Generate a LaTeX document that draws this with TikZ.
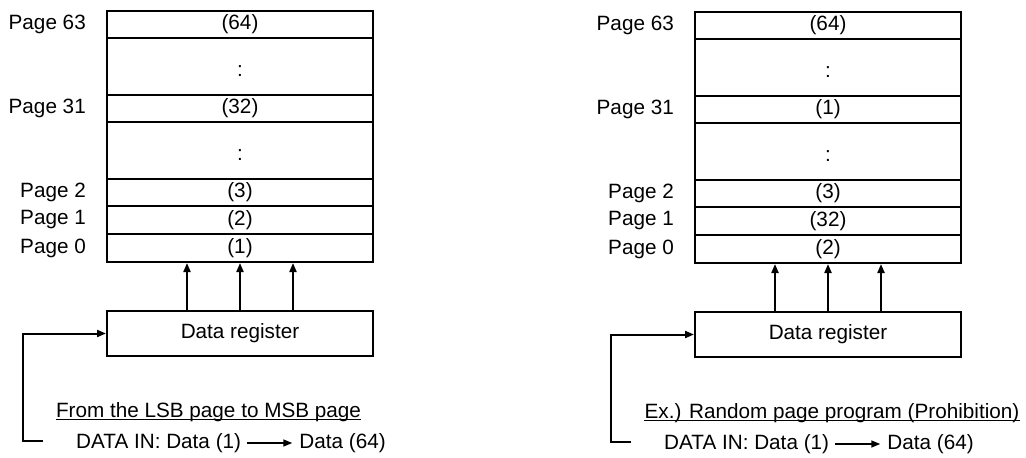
\documentclass[tikz,border=0pt]{standalone}
\usepackage{fontspec}
\setmainfont{Liberation Sans}
\usetikzlibrary{positioning,arrows.meta}
\tikzset{
  row/.style={draw, line width=2pt, minimum width=266pt, inner sep=0pt},
  gap/.style={row, minimum height=57pt, text height=19pt},
  pg/.style={inner sep=0pt},
  tip/.style={-{Triangle[length=9pt,width=7pt]}, line width=2pt}
}
\begin{document}
\begin{tikzpicture}[x=1pt, y=-1pt, font=\fontsize{20.7}{24}\selectfont]
  \useasboundingbox (0,0) rectangle (1026,458);
  % left: from the LSB page to MSB page
  \begin{scope}
    \draw
      (240,24.5) node[row, minimum height=27pt] (Lp63){(64)}
      (240,66.5) node[gap] (Lg2){:}
      (240,108.5) node[row, minimum height=27pt] (Lp31){(32)}
      (240,150.5) node[gap] (Lg1){:}
      (240,192.5) node[row, minimum height=27pt] (Lp2){(3)}
      (240,220) node[row, minimum height=28pt] (Lp1){(2)}
      (240,248) node[row, minimum height=28pt] (Lp0){(1)}
      (240,333.5) node[row, minimum height=45pt] (Lreg){Data register};
    \node[pg, left=20pt of Lp63] (Ll63){Page 63};
    \node[pg, left=20pt of Lp31] (Ll31){Page 31};
    \node[pg, left=20pt of Lp2] (Ll2){Page 2};
    \node[pg, left=20pt of Lp1] (Ll1){Page 1};
    \node[pg, left=20pt of Lp0] (Ll0){Page 0};
    \node[pg] (Lnote) at (208.5,412) {From the LSB page to MSB page};
    \draw[line width=1.5pt] ([yshift=-2pt]Lnote.base west) -- ([yshift=-2pt]Lnote.base east);
    \node[pg, anchor=west] (Ldin) at (76,443) {DATA IN: Data (1)};
    \node[pg, right=58pt of Ldin] (Ldout){Data (64)};
    \coordinate (Lf) at (43,441);
    \begin{scope}[tip]
      \draw ([xshift=-53pt]Lreg.north) to ([xshift=-53pt]Lp0.south);
      \draw (Lreg.north) to (Lp0.south);
      \draw ([xshift=53pt]Lreg.north) to ([xshift=53pt]Lp0.south);
      \draw (Lf) -- ++(-20,0) |- (Lreg.west);
      \draw[line width=1.5pt, shorten <=6pt, shorten >=7pt] (Ldin) to (Ldout);
    \end{scope}
  \end{scope}
  % right: random page program
  \begin{scope}[shift={(588,1)}]
    \draw
      (240,24.5) node[row, minimum height=27pt] (Rp63){(64)}
      (240,66.5) node[gap] (Rg2){:}
      (240,108.5) node[row, minimum height=27pt] (Rp31){(1)}
      (240,150.5) node[gap] (Rg1){:}
      (240,192.5) node[row, minimum height=27pt] (Rp2){(3)}
      (240,220) node[row, minimum height=28pt] (Rp1){(32)}
      (240,248) node[row, minimum height=28pt] (Rp0){(2)}
      (240,333.5) node[row, minimum height=45pt] (Rreg){Data register};
    \node[pg, left=20pt of Rp63] (Rl63){Page 63};
    \node[pg, left=20pt of Rp31] (Rl31){Page 31};
    \node[pg, left=20pt of Rp2] (Rl2){Page 2};
    \node[pg, left=20pt of Rp1] (Rl1){Page 1};
    \node[pg, left=20pt of Rp0] (Rl0){Page 0};
    \node[pg] (Rnote) at (244,412) {Ex.) Random page program (Prohibition)};
    \draw[line width=1.5pt] ([yshift=-2pt]Rnote.base west) -- ([yshift=-2pt]Rnote.base east);
    \node[pg, anchor=west] (Rdin) at (76,443) {DATA IN: Data (1)};
    \node[pg, right=58pt of Rdin] (Rdout){Data (64)};
    \coordinate (Rf) at (43,441);
    \begin{scope}[tip]
      \draw ([xshift=-53pt]Rreg.north) to ([xshift=-53pt]Rp0.south);
      \draw (Rreg.north) to (Rp0.south);
      \draw ([xshift=53pt]Rreg.north) to ([xshift=53pt]Rp0.south);
      \draw (Rf) -- ++(-20,0) |- (Rreg.west);
      \draw[line width=1.5pt, shorten <=6pt, shorten >=7pt] (Rdin) to (Rdout);
    \end{scope}
  \end{scope}
\end{tikzpicture}
\end{document}
